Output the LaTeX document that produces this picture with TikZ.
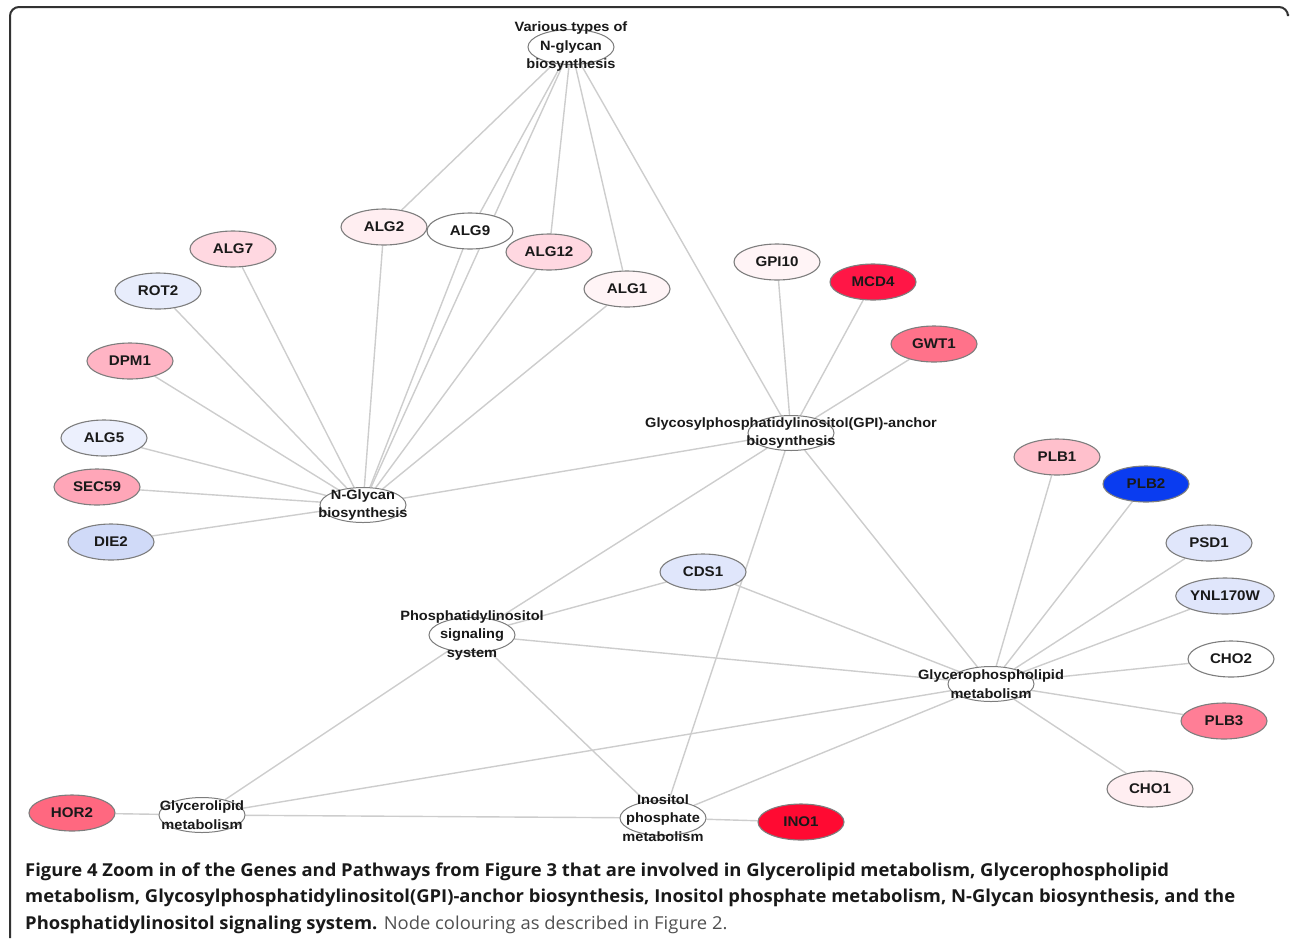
\documentclass[tikz,border=0pt]{standalone}
\usepackage{fontspec}
\setmainfont{Liberation Sans}
\newfontfamily\nodefont[FakeStretch=1.08]{Liberation Sans}
\newfontfamily\capfont[FakeStretch=1.035]{Open Sans}
\usetikzlibrary{shapes.geometric,backgrounds}

\definecolor{edgegray}{RGB}{205,205,205}
\definecolor{nodeborder}{RGB}{125,125,125}
\definecolor{framec}{RGB}{50,50,50}
\definecolor{txt}{RGB}{25,25,25}
\definecolor{capgray}{RGB}{80,80,80}
% node colours
\definecolor{pinkA}{RGB}{255,216,225}
\definecolor{pinkB}{RGB}{255,180,196}
\definecolor{pinkC}{RGB}{255,166,184}
\definecolor{pinkD}{RGB}{255,238,241}
\definecolor{pinkE}{RGB}{255,244,246}
\definecolor{pinkF}{RGB}{255,192,204}
\definecolor{redA}{RGB}{255,22,70}
\definecolor{redB}{RGB}{255,10,50}
\definecolor{roseA}{RGB}{255,114,138}
\definecolor{roseB}{RGB}{255,126,150}
\definecolor{roseC}{RGB}{255,104,128}
\definecolor{blueA}{RGB}{232,237,252}
\definecolor{blueB}{RGB}{236,240,253}
\definecolor{blueC}{RGB}{208,218,248}
\definecolor{blueD}{RGB}{224,230,251}
\definecolor{blueE}{RGB}{10,60,240}

\tikzset{
  gene/.style={ellipse, draw=nodeborder, line width=1.1pt, minimum width=86pt,
    minimum height=36pt, inner sep=0pt, text=txt,
    font=\nodefont\fontsize{14}{16}\selectfont\bfseries},
  pathway/.style={ellipse, draw=nodeborder, fill=white, line width=1pt,
    minimum width=86pt, minimum height=35pt, inner sep=0pt},
  pwlabel/.style={align=center, inner sep=0pt, text=txt,
    font=\nodefont\fontsize{13.5}{18.5}\selectfont\bfseries},
  link/.style={draw=edgegray, line width=1.4pt}
}

\begin{document}
\begin{tikzpicture}[x=1pt,y=-1pt]
\useasboundingbox (0,0) rectangle (1290,938);
\draw[framec, line width=2pt, rounded corners=9pt] (10,938) -- (10,7) -- (1288,7) -- (1288,14);

% pathways
\node[pathway, label={[pwlabel]center:{Various types of\\N-glycan\\biosynthesis}}] (vt) at (571,47) {};
\node[pathway, label={[pwlabel]center:{N-Glycan\\biosynthesis}}] (ng) at (363,505) {};
\node[pathway, label={[pwlabel]center:{Glycosylphosphatidylinositol(GPI)-anchor\\biosynthesis}}] (gpi) at (791,433) {};
\node[pathway, label={[pwlabel]center:{Glycerophospholipid\\metabolism}}] (gp) at (991,684) {};
\node[pathway, label={[pwlabel]center:{Phosphatidylinositol\\signaling\\system}}] (pi) at (472,635) {};
\node[pathway, label={[pwlabel]center:{Glycerolipid\\metabolism}}] (gl) at (202,815) {};
\node[pathway, label={[pwlabel]center:{Inositol\\phosphate\\metabolism}}] (ip) at (663,818) {};

% genes
\begin{scope}[every node/.style={gene}]
\node[fill=pinkA] (alg7) at (233,249) {ALG7};
\node[fill=blueA] (rot2) at (158,291) {ROT2};
\node[fill=pinkB] (dpm1) at (130,361) {DPM1};
\node[fill=blueB] (alg5) at (104,438) {ALG5};
\node[fill=pinkC] (sec59) at (97,487) {SEC59};
\node[fill=blueC] (die2) at (111,542) {DIE2};
\node[fill=pinkD] (alg2) at (384,227) {ALG2};
\node[fill=white] (alg9) at (470,231) {ALG9};
\node[fill=pinkA] (alg12) at (549,252) {ALG12};
\node[fill=pinkE] (alg1) at (627,289) {ALG1};
\node[fill=pinkE] (gpi10) at (777,262) {GPI10};
\node[fill=redA] (mcd4) at (873,282) {MCD4};
\node[fill=roseA] (gwt1) at (934,344) {GWT1};
\node[fill=pinkF] (plb1) at (1057,457) {PLB1};
\node[fill=blueE] (plb2) at (1146,484) {PLB2};
\node[fill=blueD] (psd1) at (1209,543) {PSD1};
\node[fill=blueD] (ynl) at (1225,596) {YNL170W};
\node[fill=white] (cho2) at (1231,659) {CHO2};
\node[fill=roseB] (plb3) at (1224,721) {PLB3};
\node[fill=pinkD] (cho1) at (1150,789) {CHO1};
\node[fill=blueD] (cds1) at (703,572) {CDS1};
\node[fill=roseC] (hor2) at (72,813) {HOR2};
\node[fill=redB] (ino1) at (801,822) {INO1};
\end{scope}

\begin{scope}[on background layer, every edge/.style={link}]
\path (vt) edge (alg2)
      (vt) edge (alg9)
      (vt) edge (ng)
      (vt) edge (alg12)
      (vt) edge (alg1)
      (vt) edge (gpi);
\path (ng) edge (alg7)
      (ng) edge (rot2)
      (ng) edge (dpm1)
      (ng) edge (alg5)
      (ng) edge (sec59)
      (ng) edge (die2)
      (ng) edge (alg2)
      (ng) edge (alg9)
      (ng) edge (alg12)
      (ng) edge (alg1)
      (ng) edge (gpi);
\path (gpi) edge (gpi10)
      (gpi) edge (mcd4)
      (gpi) edge (gwt1)
      (gpi) edge (pi)
      (gpi) edge (ip)
      (gpi) edge (gp);
\path (gp) edge (plb1)
      (gp) edge (plb2)
      (gp) edge (psd1)
      (gp) edge (ynl)
      (gp) edge (cho2)
      (gp) edge (plb3)
      (gp) edge (cho1)
      (gp) edge (cds1)
      (gp) edge (pi)
      (gp) edge (gl)
      (gp) edge (ip);
\path (pi) edge (cds1)
      (pi) edge (gl)
      (pi) edge (ip)
      (gl) edge (hor2)
      (gl) edge (ip)
      (ip) edge (ino1);
\end{scope}

% caption
\node[anchor=base west, align=left, inner sep=0pt, text=txt,
      font=\capfont\fontsize{17.8}{26.5}\selectfont] (caption) at (25,929)
  {{\bfseries Figure 4 Zoom in of the Genes and Pathways from Figure 3 that are involved in Glycerolipid metabolism, Glycerophospholipid}\\
   {\bfseries metabolism, Glycosylphosphatidylinositol(GPI)-anchor biosynthesis, Inositol phosphate metabolism, N-Glycan biosynthesis, and the}\\
   {\bfseries Phosphatidylinositol signaling system.} {\color{capgray}Node colouring as described in Figure 2.}};
\end{tikzpicture}
\end{document}
